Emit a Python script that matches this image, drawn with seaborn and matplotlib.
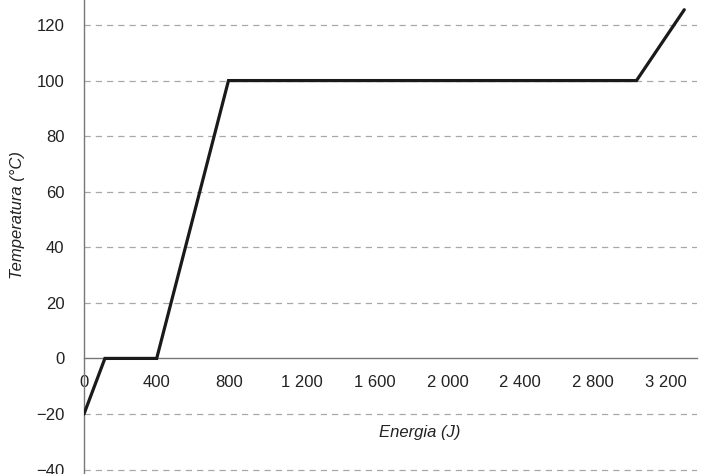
import matplotlib
matplotlib.use("Agg")
import matplotlib.pyplot as plt
import matplotlib.ticker as mticker
import seaborn as sns
import pandas as pd

# curva de aquecimento da agua
energia = [0, 115, 400, 795, 3040, 3303]
temperatura = [-20, 0, 0, 100, 100, 125.5]
xticks = [0, 400, 800, 1200, 1600, 2000, 2400, 2800, 3200]
yticks = [-40, -20, 0, 20, 40, 60, 80, 100, 120]

df = pd.DataFrame({"Energia": energia, "Temperatura": temperatura})

sns.set_style("white")
plt.rcParams['font.family'] = ['Liberation Sans', 'DejaVu Sans']

fig = plt.figure(figsize=(7.01, 4.74), dpi=100)
ax = fig.add_axes([84 / 701, 0, 613 / 701, 1])

sns.lineplot(data=df, x="Energia", y="Temperatura", color="#1a1a1a", lw=2.3,
             ax=ax, zorder=5, solid_joinstyle="miter")

ax.set_xlim(0, 3373)
ax.set_ylim(-41.6, 129)

for t in yticks:
    if t != 0:
        ax.axhline(t, color="#a8a8a8", lw=0.9, ls=(0, (5, 4)), zorder=1)

ax.spines["top"].set_visible(False)
ax.spines["right"].set_visible(False)
ax.spines["bottom"].set_position(("data", 0))
ax.spines["bottom"].set_color("#777777")
ax.spines["left"].set_color("#777777")
ax.spines["bottom"].set_linewidth(1.0)
ax.spines["left"].set_linewidth(1.0)

ax.set_xticks(xticks)
ax.set_yticks(yticks)
ax.xaxis.set_major_formatter(mticker.FuncFormatter(lambda v, p: f"{int(v):,}".replace(",", " ")))
ax.yaxis.set_major_formatter(mticker.FuncFormatter(lambda v, p: f"{int(v)}".replace("-", "\u2212")))
ax.tick_params(axis="both", direction="out", length=4, width=1, color="#777777",
               labelsize=12, labelcolor="#222222")
ax.tick_params(axis="x", pad=8)
ax.tick_params(axis="y", pad=10)

ax.set_xlabel("")
ax.set_ylabel("")
fig.text(420 / 701, 1 - 432 / 474, "Energia (J)", style="italic", fontsize=12,
         ha="center", va="center", color="#222222")
fig.text(18 / 701, 1 - 215 / 474, "Temperatura (°C)", style="italic", fontsize=12,
         ha="center", va="center", rotation=90, color="#222222")

fig.savefig("out.png", dpi=100)
